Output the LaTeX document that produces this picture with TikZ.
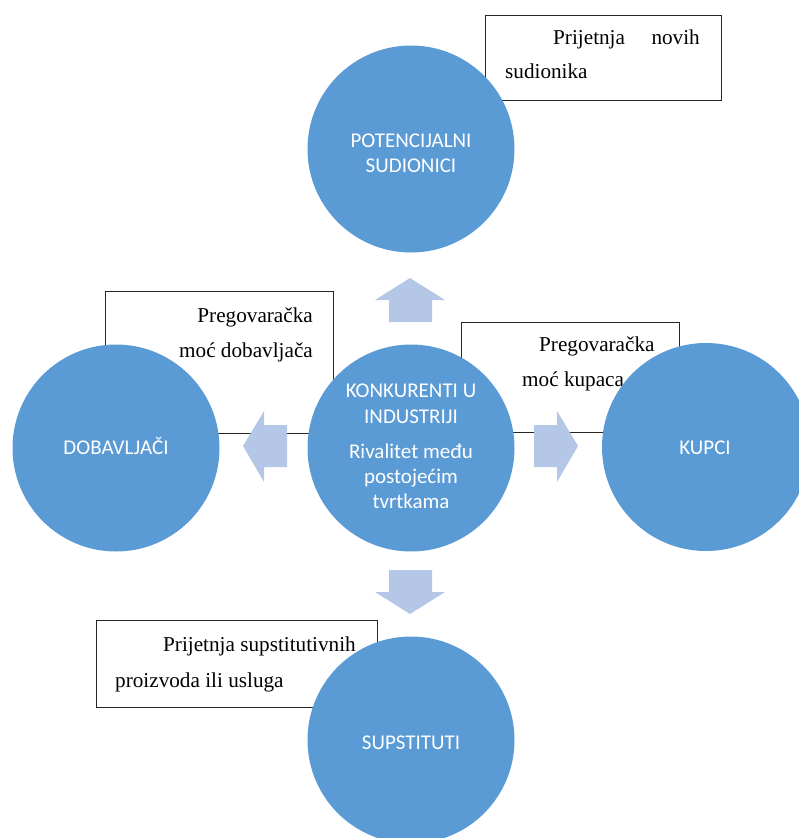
\documentclass[tikz,border=0pt]{standalone}
\usepackage{fontspec}
\setmainfont{Liberation Serif}
\newfontfamily\calfont{Carlito}
\definecolor{circblue}{HTML}{5B9BD5}
\definecolor{arrblue}{HTML}{B4C7E7}
\begin{document}
\begin{tikzpicture}[x=1pt,y=-1pt,
 force/.style={circle,fill=circblue,minimum size=207pt,inner sep=0pt},
 infobox/.style={draw=black!85,line width=1.3pt,fill=white,rectangle,inner sep=0pt,anchor=north west},
 boxtext/.style={font=\fontsize{21.2}{25}\selectfont,inner sep=0pt},
 circtext/.style={font=\calfont\fontsize{21}{25}\selectfont,text=white,inner sep=0pt,anchor=base},
 fat/.style={fill=arrblue}]
\useasboundingbox (0,0) rectangle (798,838);
% boxes
\node[infobox,minimum width=236pt,minimum height=85pt] (tb) at (485,15) {};
\node[infobox,minimum width=228pt,minimum height=142pt] (lb) at (105,291) {};
\node[infobox,minimum width=218pt,minimum height=110pt] (rb) at (461,322) {};
\node[infobox,minimum width=281pt,minimum height=87pt] (bb) at (96,620) {};
% box texts
\node[boxtext,anchor=base west] (t1) at (553,44) {Prijetnja};
\node[boxtext,anchor=base east] (t2) at (700,44) {novih};
\node[boxtext,anchor=base west] (t3) at (505,78) {sudionika};
\node[boxtext,anchor=base east] (l1) at (313,322) {Pregovaračka};
\node[boxtext,anchor=base east] (l2) at (313,357) {moć dobavljača};
\node[boxtext,anchor=base west] (r1) at (539,351) {Pregovaračka};
\node[boxtext,anchor=base west] (r2) at (522,386) {moć kupaca};
\node[boxtext,anchor=base west] (b1) at (163,651) {Prijetnja supstitutivnih};
\node[boxtext,anchor=base west] (b2) at (115,687) {proizvoda ili usluga};
% circles
\node[force] (top) at (411,149) {};
\node[force] (mid) at (411,448) {};
\node[force] (left) at (116,448) {};
\node[force,minimum size=208pt] (right) at (706,447) {};
\node[force] (bot) at (411,740) {};
% circle texts
\node[circtext] (ct1) at (411,147) {POTENCIJALNI};
\node[circtext] (ct2) at (411,172) {SUDIONICI};
\node[circtext] (m1) at (411,397) {KONKURENTI U};
\node[circtext] (m2) at (411,423) {INDUSTRIJI};
\node[circtext] (m3) at (411,458) {Rivalitet među};
\node[circtext] (m4) at (411,483) {postojećim};
\node[circtext] (m5) at (411,508) {tvrtkama};
\node[circtext] (lt) at (116,454) {DOBAVLJAČI};
\node[circtext] (rt) at (705,454) {KUPCI};
\node[circtext] (bt) at (411,749) {SUPSTITUTI};
% block arrows
\fill[fat] (389,322)--(389,300)--(375,300)--(410,278)--(445,300)--(432,300)--(432,322)--cycle;
\fill[fat] (389,570)--(432,570)--(432,592)--(445,592)--(410,614)--(375,592)--(389,592)--cycle;
\fill[fat] (287,425)--(264,425)--(264,411)--(243,446)--(264,482)--(264,467)--(287,467)--cycle;
\fill[fat] (534,425)--(557,425)--(557,411)--(578,446)--(557,482)--(557,467)--(534,467)--cycle;
\end{tikzpicture}
\end{document}
